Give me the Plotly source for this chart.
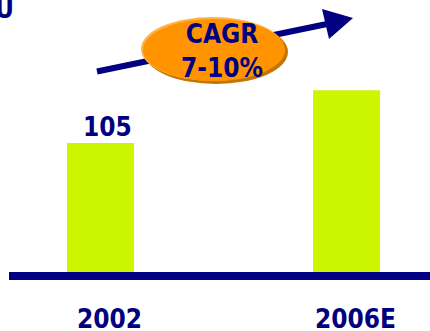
import plotly.graph_objects as go

# Market size by year
years = ["2002", "2006E"]
values = [105, 148]
value_labels = ["105", ""]
cagr_text = "CAGR<br>7-10%"

W, H = 430, 331
BOTTOM = 59          # pixels below the bar baseline
PLOT_H = H - BOTTOM  # height of the plotting area

NAVY = "#000080"
LIME = "#CCF500"
FONT = "DejaVu Sans Condensed, DejaVu Sans, sans-serif"
LABEL_FONT = dict(family=FONT, size=26, color=NAVY, weight="bold")


def px(x):
    """Horizontal pixel -> paper coordinate."""
    return x / W


def py(y):
    """Vertical pixel (from top) -> paper coordinate."""
    return (PLOT_H - y) / PLOT_H


fig = go.Figure()
fig.add_trace(go.Bar(
    x=years,
    y=values,
    width=0.272,
    marker=dict(color=LIME, line=dict(width=0)),
    cliponaxis=False,
    hoverinfo="skip",
))

shapes = [
    # baseline under the bars
    dict(type="line", xref="paper", yref="paper",
         x0=px(9), x1=px(432), y0=py(276), y1=py(276),
         line=dict(color=NAVY, width=8), layer="above"),
    # growth arrow shaft
    dict(type="line", xref="paper", yref="paper",
         x0=px(97), y0=py(71.5), x1=px(327), y1=py(24),
         line=dict(color=NAVY, width=6)),
    # growth arrow head
    dict(type="path", xref="paper", yref="paper",
         path=(f"M {px(322)} {py(9)} L {px(353)} {py(18)} "
               f"L {px(329)} {py(39)} Z"),
         fillcolor=NAVY, line=dict(width=0)),
    # oval badge: shadow, highlight rim, body
    dict(type="circle", xref="paper", yref="paper",
         x0=px(144), x1=px(288), y0=py(84), y1=py(20),
         fillcolor="#C47400", line=dict(width=0)),
    dict(type="circle", xref="paper", yref="paper",
         x0=px(141), x1=px(284), y0=py(81), y1=py(17),
         fillcolor="#FFB24A", line=dict(width=0)),
    dict(type="circle", xref="paper", yref="paper",
         x0=px(143), x1=px(285), y0=py(81), y1=py(19),
         fillcolor="#FF9400", line=dict(width=0)),
]

annotations = [
    dict(xref="paper", yref="paper", x=px(222), y=py(51),
         text=cagr_text, showarrow=False, font=LABEL_FONT,
         xanchor="center", yanchor="middle"),
    dict(xref="paper", yref="paper", x=px(16), y=py(26),
         text="U", showarrow=False, font=LABEL_FONT,
         xanchor="right", yanchor="bottom"),
]

# value labels above the bars (x given as category index)
for i, (v, lab) in enumerate(zip(values, value_labels)):
    if lab:
        annotations.append(dict(
            x=i, y=v, xref="x", yref="y", text=lab, showarrow=False,
            font=LABEL_FONT, xanchor="center", yanchor="bottom",
            xshift=7, yshift=-1,
        ))

# category labels under the baseline
for i, yr in enumerate(years):
    annotations.append(dict(
        x=i, y=0, xref="x", yref="paper", text=yr, showarrow=False,
        font=LABEL_FONT, xanchor="center", yanchor="middle",
        xshift=9, yshift=-47,
    ))

fig.update_layout(
    width=W, height=H,
    margin=dict(l=0, r=0, t=0, b=BOTTOM, pad=0, autoexpand=False),
    paper_bgcolor="white", plot_bgcolor="white",
    showlegend=False,
    shapes=shapes,
    annotations=annotations,
    xaxis=dict(
        type="category",
        range=[-0.4085, 1.3394],
        showgrid=False, zeroline=False, showline=False,
        ticks="", showticklabels=False,
        automargin=False,
        fixedrange=True,
    ),
    yaxis=dict(
        range=[0, 105 * PLOT_H / 129],
        visible=False,
        automargin=False,
        fixedrange=True,
    ),
)

fig.write_html("out.html")
